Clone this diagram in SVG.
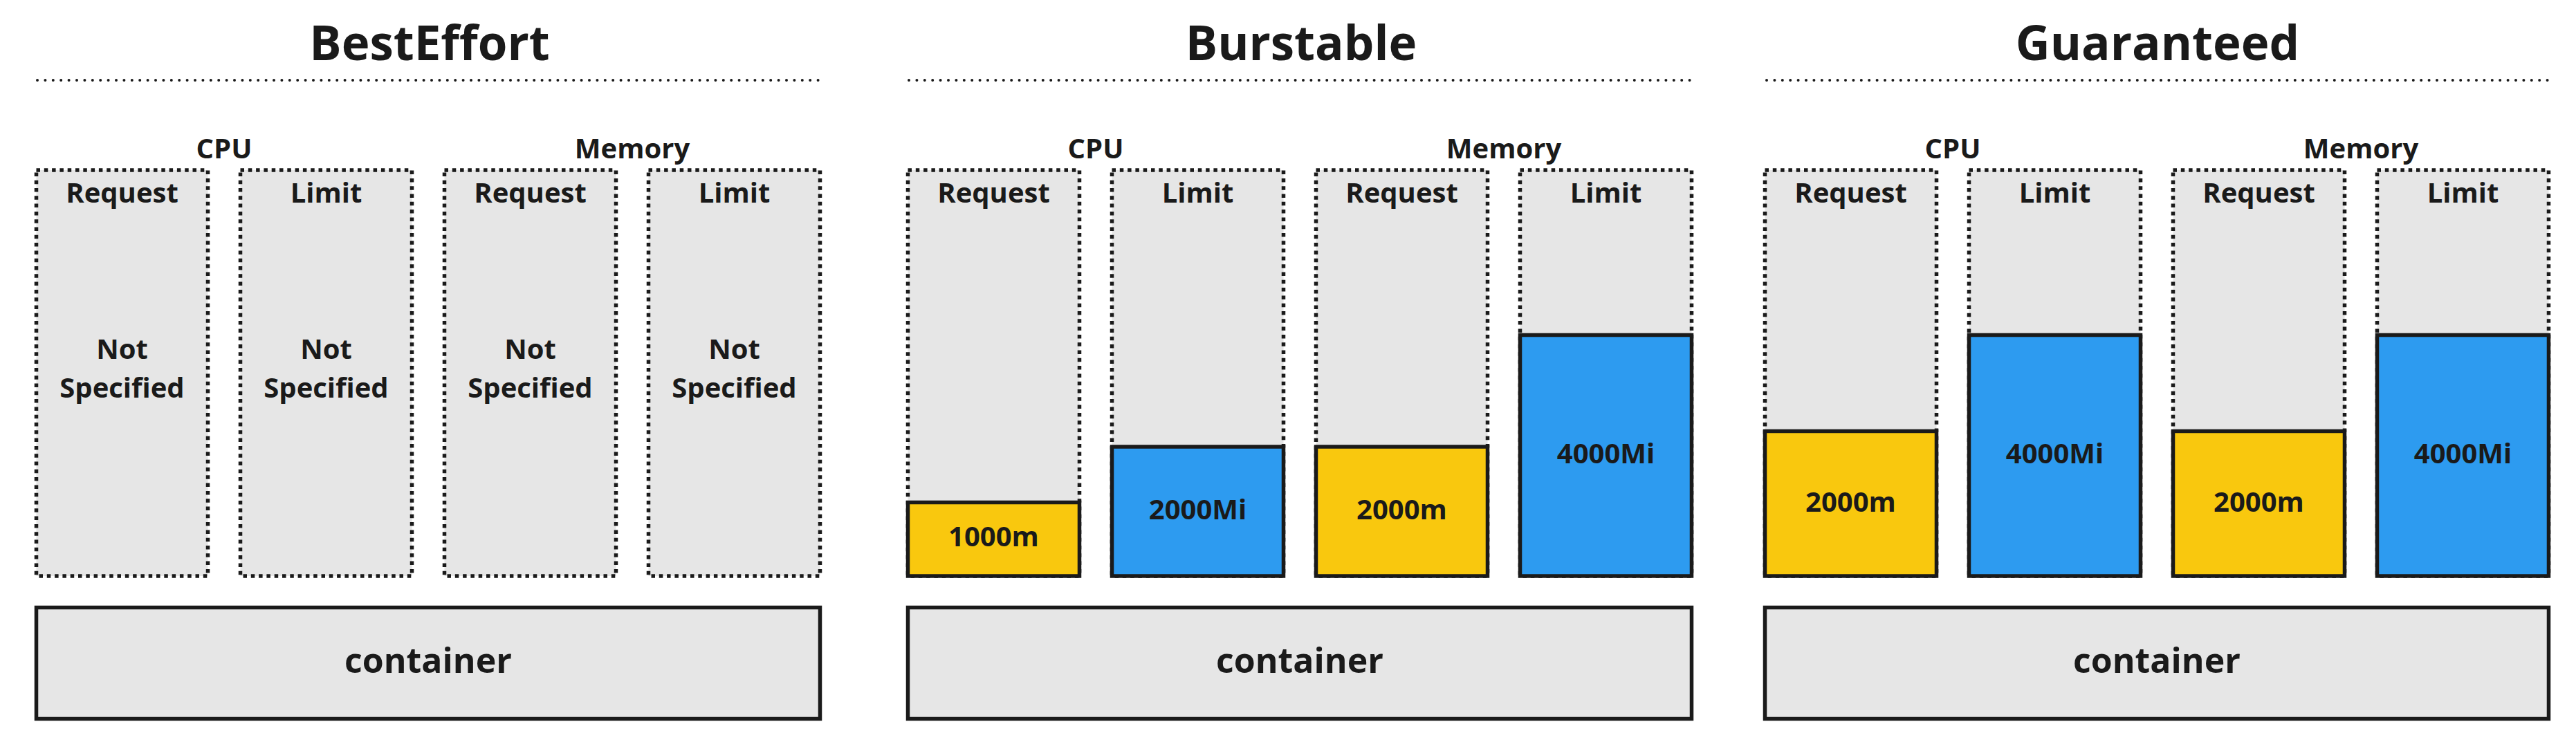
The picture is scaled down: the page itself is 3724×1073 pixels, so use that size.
<svg xmlns="http://www.w3.org/2000/svg" width="3724" height="1073" viewBox="0 0 3724 1073">
<style>
  text { font-family: "Open Sans", "Noto Sans", "Liberation Sans", sans-serif; font-weight: 700; fill: #1a1a1a; text-anchor: middle; }
  .title { font-size: 69px; }
  .lbl { font-size: 40px; }
  .ctr { font-size: 50px; }
  .slot { fill: #e6e6e6; stroke: #1a1a1a; stroke-width: 5.5; stroke-dasharray: 5.5 5.8; }
  .sep { fill: none; stroke: #1a1a1a; stroke-width: 4; stroke-linecap: round; stroke-dasharray: 0 11.4; }
  .yel { fill: #f9c80e; stroke: #1a1a1a; stroke-width: 5.5; }
  .blu { fill: #2d9bf0; stroke: #1a1a1a; stroke-width: 5.5; }
  .cont { fill: #e6e6e6; stroke: #1a1a1a; stroke-width: 5.5; }
</style>
<rect width="3724" height="1073" fill="#ffffff"/>

<!-- ===== BestEffort ===== -->
<g id="besteffort">
  <text class="title" x="621" y="87">BestEffort</text>
  <line class="sep" x1="54" y1="116" x2="1190" y2="116"/>
  <text class="lbl" x="324" y="229">CPU</text>
  <text class="lbl" x="914" y="229">Memory</text>
  <g id="be-cpu-request">
    <rect class="slot" x="52.5" y="246" width="248" height="587"/>
    <text class="lbl" x="176.5" y="293">Request</text>
    <text class="lbl" x="176.5" y="519">Not</text>
    <text class="lbl" x="176.5" y="575">Specified</text>
  </g>
  <g id="be-cpu-limit">
    <rect class="slot" x="347.5" y="246" width="248" height="587"/>
    <text class="lbl" x="471.5" y="293">Limit</text>
    <text class="lbl" x="471.5" y="519">Not</text>
    <text class="lbl" x="471.5" y="575">Specified</text>
  </g>
  <g id="be-mem-request">
    <rect class="slot" x="642.5" y="246" width="248" height="587"/>
    <text class="lbl" x="766.5" y="293">Request</text>
    <text class="lbl" x="766.5" y="519">Not</text>
    <text class="lbl" x="766.5" y="575">Specified</text>
  </g>
  <g id="be-mem-limit">
    <rect class="slot" x="937.5" y="246" width="248" height="587"/>
    <text class="lbl" x="1061.5" y="293">Limit</text>
    <text class="lbl" x="1061.5" y="519">Not</text>
    <text class="lbl" x="1061.5" y="575">Specified</text>
  </g>
  <g id="be-container">
    <rect class="cont" x="52.5" y="878.5" width="1133" height="161"/>
    <text class="ctr" x="619" y="973">container</text>
  </g>
</g>

<!-- ===== Burstable ===== -->
<g id="burstable">
  <text class="title" x="1881" y="87">Burstable</text>
  <line class="sep" x1="1314" y1="116" x2="2453" y2="116"/>
  <text class="lbl" x="1584" y="229">CPU</text>
  <text class="lbl" x="2174" y="229">Memory</text>
  <g id="bu-cpu-request">
    <rect class="slot" x="1312.5" y="246" width="248" height="587"/>
    <text class="lbl" x="1436.5" y="293">Request</text>
    <rect class="yel" x="1312.5" y="726.5" width="248" height="106.5"/>
    <text class="lbl" x="1436.5" y="790">1000m</text>
  </g>
  <g id="bu-cpu-limit">
    <rect class="slot" x="1607.5" y="246" width="248" height="587"/>
    <text class="lbl" x="1731.5" y="293">Limit</text>
    <rect class="blu" x="1607.5" y="646" width="248" height="187"/>
    <text class="lbl" x="1731.5" y="751">2000Mi</text>
  </g>
  <g id="bu-mem-request">
    <rect class="slot" x="1902.5" y="246" width="248" height="587"/>
    <text class="lbl" x="2026.5" y="293">Request</text>
    <rect class="yel" x="1902.5" y="646" width="248" height="187"/>
    <text class="lbl" x="2026.5" y="751">2000m</text>
  </g>
  <g id="bu-mem-limit">
    <rect class="slot" x="2197.5" y="246" width="248" height="587"/>
    <text class="lbl" x="2321.5" y="293">Limit</text>
    <rect class="blu" x="2197.5" y="484.5" width="248" height="348.5"/>
    <text class="lbl" x="2321.5" y="670">4000Mi</text>
  </g>
  <g id="bu-container">
    <rect class="cont" x="1312.5" y="878.5" width="1133" height="161"/>
    <text class="ctr" x="1879" y="973">container</text>
  </g>
</g>

<!-- ===== Guaranteed ===== -->
<g id="guaranteed">
  <text class="title" x="3119" y="87">Guaranteed</text>
  <line class="sep" x1="2554" y1="116" x2="3688" y2="116"/>
  <text class="lbl" x="2823" y="229">CPU</text>
  <text class="lbl" x="3413" y="229">Memory</text>
  <g id="gu-cpu-request">
    <rect class="slot" x="2551.5" y="246" width="248" height="587"/>
    <text class="lbl" x="2675.5" y="293">Request</text>
    <rect class="yel" x="2551.5" y="623.5" width="248" height="209.5"/>
    <text class="lbl" x="2675.5" y="740">2000m</text>
  </g>
  <g id="gu-cpu-limit">
    <rect class="slot" x="2846.5" y="246" width="248" height="587"/>
    <text class="lbl" x="2970.5" y="293">Limit</text>
    <rect class="blu" x="2846.5" y="484.5" width="248" height="348.5"/>
    <text class="lbl" x="2970.5" y="670">4000Mi</text>
  </g>
  <g id="gu-mem-request">
    <rect class="slot" x="3141.5" y="246" width="248" height="587"/>
    <text class="lbl" x="3265.5" y="293">Request</text>
    <rect class="yel" x="3141.5" y="623.5" width="248" height="209.5"/>
    <text class="lbl" x="3265.5" y="740">2000m</text>
  </g>
  <g id="gu-mem-limit">
    <rect class="slot" x="3436.5" y="246" width="248" height="587"/>
    <text class="lbl" x="3560.5" y="293">Limit</text>
    <rect class="blu" x="3436.5" y="484.5" width="248" height="348.5"/>
    <text class="lbl" x="3560.5" y="670">4000Mi</text>
  </g>
  <g id="gu-container">
    <rect class="cont" x="2551.5" y="878.5" width="1133" height="161"/>
    <text class="ctr" x="3118" y="973">container</text>
  </g>
</g>

<g id="connectors"></g>
</svg>
